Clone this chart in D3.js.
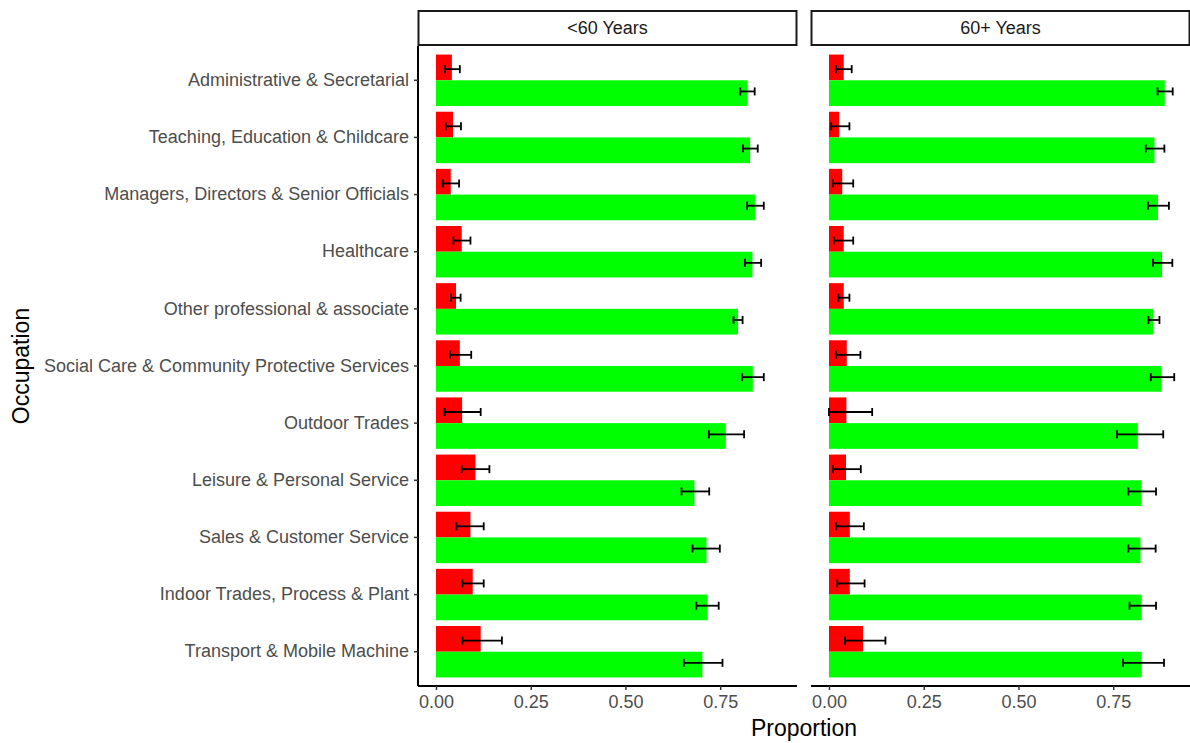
<!DOCTYPE html>
<html>
<head>
<meta charset="utf-8">
<script src="https://cdn.jsdelivr.net/npm/d3@7"></script>
<style>
  html, body { margin: 0; padding: 0; background: #fff; }
  svg { display: block; font-family: "Liberation Sans", Arial, sans-serif; }
</style>
</head>
<body>
<svg id="chart" width="1190" height="743"></svg>
<script>
// Occupation categories, top to bottom
const occupations = [
  "Administrative & Secretarial",
  "Teaching, Education & Childcare",
  "Managers, Directors & Senior Officials",
  "Healthcare",
  "Other professional & associate",
  "Social Care & Community Protective Services",
  "Outdoor Trades",
  "Leisure & Personal Service",
  "Sales & Customer Service",
  "Indoor Trades, Process & Plant",
  "Transport & Mobile Machine"
];
const panels = ["<60 Years", "60+ Years"];
const outcomes = ["red", "green"];

// <60 Years: proportions with lower / upper interval bounds
const under60Red      = [0.042, 0.045, 0.039, 0.068, 0.053, 0.063, 0.069, 0.104, 0.091, 0.097, 0.118];
const under60RedLow   = [0.024, 0.026, 0.018, 0.046, 0.040, 0.037, 0.023, 0.068, 0.054, 0.070, 0.070];
const under60RedHigh  = [0.063, 0.066, 0.061, 0.091, 0.065, 0.093, 0.118, 0.141, 0.126, 0.126, 0.174];
const under60Green     = [0.822, 0.829, 0.842, 0.835, 0.797, 0.836, 0.765, 0.682, 0.714, 0.717, 0.703];
const under60GreenLow  = [0.803, 0.810, 0.821, 0.815, 0.785, 0.808, 0.720, 0.648, 0.677, 0.687, 0.654];
const under60GreenHigh = [0.841, 0.849, 0.865, 0.858, 0.809, 0.865, 0.813, 0.721, 0.749, 0.746, 0.756];

// 60+ Years
const over60Red      = [0.039, 0.027, 0.035, 0.039, 0.039, 0.047, 0.046, 0.045, 0.055, 0.055, 0.090];
const over60RedLow   = [0.019, 0.006, 0.011, 0.013, 0.025, 0.019, 0.000, 0.011, 0.019, 0.022, 0.042];
const over60RedHigh  = [0.060, 0.054, 0.064, 0.064, 0.054, 0.083, 0.114, 0.084, 0.092, 0.094, 0.149];
const over60Green     = [0.886, 0.859, 0.868, 0.879, 0.856, 0.877, 0.815, 0.824, 0.822, 0.825, 0.825];
const over60GreenLow  = [0.867, 0.836, 0.842, 0.855, 0.843, 0.849, 0.760, 0.790, 0.790, 0.793, 0.776];
const over60GreenHigh = [0.907, 0.885, 0.897, 0.906, 0.872, 0.911, 0.882, 0.863, 0.862, 0.863, 0.884];

const xTicks = [0, 0.25, 0.5, 0.75];
const xTickLabels = ["0.00", "0.25", "0.50", "0.75"];

const panelData = [
  { name: panels[0],
    red: under60Red, redLow: under60RedLow, redHigh: under60RedHigh,
    green: under60Green, greenLow: under60GreenLow, greenHigh: under60GreenHigh },
  { name: panels[1],
    red: over60Red, redLow: over60RedLow, redHigh: over60RedHigh,
    green: over60Green, greenLow: over60GreenLow, greenHigh: over60GreenHigh }
];

const colors = { red: "#FF0000", green: "#00FF00" };

const svg = d3.select("#chart");
const panelTop = 46, panelBottom = 686;
const panelX = [418, 811];
const panelW = 379;
const stripTop = 11, stripH = 34;

// discrete axis with 0.6-step padding at each end, bars filling 90% of a step
const y = d3.scaleBand()
  .domain(occupations)
  .range([panelTop, panelBottom])
  .paddingInner(0.1)
  .paddingOuter(0.15);

// continuous axis expanded 5% around [0, max]
const x = d3.scaleLinear().domain([-0.0474, 0.9526]).range([0, panelW]);

const inner = d3.scaleBand().domain(outcomes).range([0, y.bandwidth()]);

const textGrey = "#4D4D4D";
const fontStack = "Liberation Sans, Arial, sans-serif";

panelData.forEach((p, pi) => {
  const g = svg.append("g").attr("transform", `translate(${panelX[pi]},0)`);

  // strip header
  g.append("rect")
    .attr("x", 0.5).attr("y", stripTop)
    .attr("width", panelW - 1).attr("height", stripH)
    .attr("fill", "#fff").attr("stroke", "#1a1a1a").attr("stroke-width", 2);
  g.append("text")
    .attr("x", panelW / 2).attr("y", stripTop + stripH / 2)
    .attr("text-anchor", "middle").attr("dominant-baseline", "central")
    .attr("font-size", 18).attr("fill", "#1A1A1A")
    .text(p.name);

  // bars
  outcomes.forEach(o => {
    g.append("g").selectAll("rect")
      .data(occupations)
      .join("rect")
      .attr("x", x(0))
      .attr("y", (d) => y(d) + inner(o))
      .attr("width", (d, i) => x(p[o][i]) - x(0))
      .attr("height", inner.bandwidth())
      .attr("fill", colors[o]);
  });

  // error bars
  const capHalf = y.step() * 0.07;
  outcomes.forEach(o => {
    const off = (o === "red" ? -1 : 1) * y.step() * 0.195;
    const eb = g.append("g").attr("stroke", "#000").attr("stroke-width", 1.8).attr("fill", "none");
    occupations.forEach((d, i) => {
      const cy = y(d) + y.bandwidth() / 2 + off;
      const x0 = x(p[o + "Low"][i]), x1 = x(p[o + "High"][i]);
      eb.append("line").attr("x1", x0).attr("x2", x1).attr("y1", cy).attr("y2", cy);
      eb.append("line").attr("x1", x0).attr("x2", x0).attr("y1", cy - capHalf).attr("y2", cy + capHalf);
      eb.append("line").attr("x1", x1).attr("x2", x1).attr("y1", cy - capHalf).attr("y2", cy + capHalf);
    });
  });

  // bottom axis
  const xAxis = g.append("g")
    .attr("transform", `translate(0,${panelBottom})`)
    .call(d3.axisBottom(x).tickValues(xTicks)
      .tickFormat((d, i) => xTickLabels[i]).tickSize(4).tickPadding(5));
  xAxis.select(".domain").attr("stroke", "#000").attr("stroke-width", 2)
    .attr("d", `M0,0H${panelW}`);
  xAxis.selectAll(".tick line").attr("stroke", "#333").attr("stroke-width", 1.5);
  xAxis.selectAll(".tick text").attr("font-size", 18).attr("fill", textGrey)
    .attr("font-family", fontStack);

  // left axis on the first panel only
  if (pi === 0) {
    const yAxis = g.append("g")
      .call(d3.axisLeft(y).tickSize(4).tickPadding(5));
    yAxis.select(".domain").attr("stroke", "#000").attr("stroke-width", 2)
      .attr("d", `M0,${panelTop}V${panelBottom}`);
    yAxis.selectAll(".tick line").attr("stroke", "#333").attr("stroke-width", 1.5);
    yAxis.selectAll(".tick text").attr("font-size", 18).attr("fill", textGrey)
      .attr("font-family", fontStack);
  }
});

// axis titles
svg.append("text")
  .attr("x", (panelX[0] + panelX[1] + panelW) / 2).attr("y", 736)
  .attr("text-anchor", "middle").attr("font-size", 23).attr("fill", "#000")
  .text("Proportion");
svg.append("text")
  .attr("transform", `translate(29,${(panelTop + panelBottom) / 2}) rotate(-90)`)
  .attr("text-anchor", "middle").attr("font-size", 23).attr("fill", "#000")
  .text("Occupation");
</script>
</body>
</html>
